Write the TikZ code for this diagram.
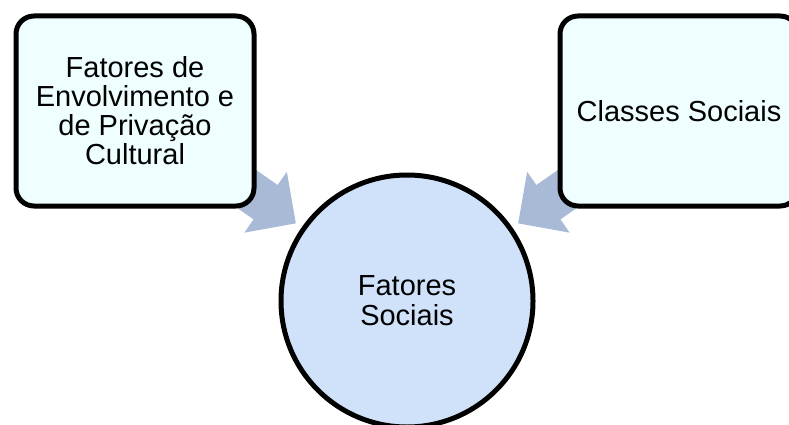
\documentclass[tikz,border=0pt]{standalone}
\usepackage{fontspec}
\setmainfont{Liberation Sans}
\usetikzlibrary{arrows.meta}
\definecolor{boxfill}{HTML}{EFFFFF}
\definecolor{circfill}{HTML}{D0E2FA}
\definecolor{arrowcol}{HTML}{A9BAD6}
\tikzset{
  sourcebox/.style={draw=black, line width=5pt, fill=boxfill, rounded corners=18pt,
    minimum width=238pt, minimum height=190pt, inner sep=0pt, align=center,
    font=\fontsize{29}{29}\selectfont},
  centercirc/.style={draw=black, line width=5pt, fill=circfill, circle,
    minimum size=252pt, inner sep=0pt, align=center,
    font=\fontsize{29}{30}\selectfont},
  blockarrow/.style={draw=arrowcol, line width=42pt,
    -{Triangle[length=37pt, width=72pt]}, shorten >=7pt}
}
\begin{document}
\begin{tikzpicture}[x=1pt, y=-1pt]
\useasboundingbox (0,0) rectangle (789,425);
\coordinate (lc) at (135,111);
\coordinate (rc) at (679,111);
\node[centercirc] (c) at (407,301) {Fatores\\Sociais};
\draw[blockarrow] (lc) -- (c);
\draw[blockarrow] (rc) -- (c);
\node[sourcebox] (l) at (lc) {Fatores de\\Envolvimento e\\de Privação\\Cultural};
\node[sourcebox] (r) at (rc) {Classes Sociais};
\end{tikzpicture}
\end{document}
